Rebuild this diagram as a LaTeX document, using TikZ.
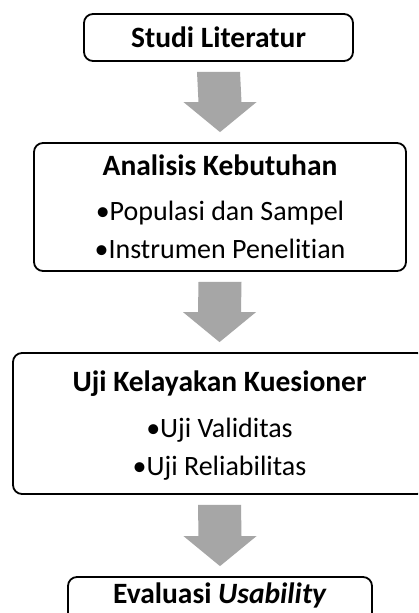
\documentclass[tikz,border=0pt]{standalone}
\usepackage{fontspec}
\setmainfont{Carlito}[Ligatures=NoCommon]
\usetikzlibrary{calc}
\definecolor{arrowgray}{HTML}{A6A6A6}
\tikzset{
  box/.style={draw=black, line width=1.8pt, rounded corners=9pt, fill=white, inner sep=0pt},
  ttl/.style={font=\fontsize{29.5}{31}\selectfont\bfseries, anchor=base, inner sep=0pt},
  itm/.style={font=\fontsize{28}{30}\selectfont, anchor=base, inner sep=0pt},
  arrowfill/.style={fill=arrowgray}
}
\newcommand\blockarrow[2]{%
  \fill[arrowfill] ($(#1.south)+(-21.5,10)$) -- ($(#1.south)+(21.5,10)$)
    -- ($(#2.north)+(21.5,-40)$) -- ($(#2.north)+(36.5,-40)$)
    -- ($(#2.north)+(0,-10)$)
    -- ($(#2.north)+(-36.5,-40)$) -- ($(#2.north)+(-21.5,-40)$) -- cycle;}
\begin{document}
\begin{tikzpicture}[x=1pt,y=-1pt]
  \clip (0,0) rectangle (418,613);
  \fill[white] (0,0) rectangle (418,613);
  % boxes
  \node[box, minimum width=269pt, minimum height=47pt] (b1) at (218.5,37.5) {};
  \node[box, minimum width=372pt, minimum height=128pt] (b2) at (220,207) {};
  \node[box, minimum width=413pt, minimum height=141pt] (b3) at (219.5,423.5) {};
  \node[box, minimum width=304pt, minimum height=47pt] (b4) at (220,600.5) {};
  % texts
  \node[ttl] (t1) at (218.5,47) {Studi Literatur};
  \node[ttl] (t2) at (220,175) {Analisis Kebutuhan};
  \node[itm] (i21) at (220,220) {•Populasi dan Sampel};
  \node[itm] (i22) at (220,258) {•Instrumen Penelitian};
  \node[ttl] (t3) at (219.5,391) {Uji Kelayakan Kuesioner};
  \node[itm] (i31) at (219.5,437) {•Uji Validitas};
  \node[itm] (i32) at (219.5,475) {•Uji Reliabilitas};
  \node[ttl] (t4) at (220,603) {Evaluasi \textit{Usability}};
  % arrows
  \blockarrow{b1}{b2}
  \blockarrow{b2}{b3}
  \blockarrow{b3}{b4}
\end{tikzpicture}
\end{document}
